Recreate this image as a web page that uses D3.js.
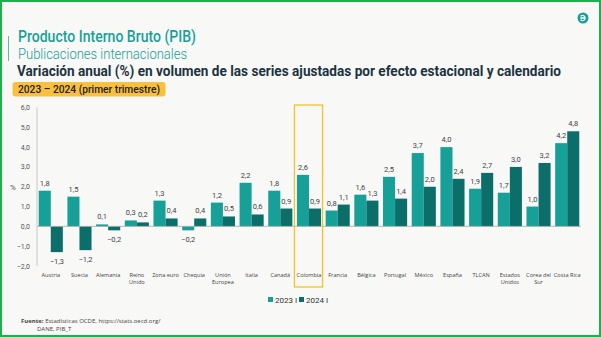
<!DOCTYPE html>
<html lang="es">
<head>
<meta charset="UTF-8">
<title>PIB - Publicaciones internacionales</title>
<script src="https://d3js.org/d3.v7.min.js"></script>
<style>
  html, body { margin: 0; padding: 0; background: #ffffff; }
  svg { display: block; font-family: "Roboto", "Noto Sans", sans-serif; }
  .narrow { font-family: "Liberation Sans Narrow", "Roboto", sans-serif; }
  .tick-label { font-size: 7px; fill: #555; text-anchor: end; }
  .value-label { font-size: 7.5px; fill: #444; text-anchor: middle; }
  .cat-label { font-size: 5.6px; fill: #444; text-anchor: middle; font-family: "Open Sans", "Noto Sans", sans-serif; }
</style>
</head>
<body>
<div id="chart"></div>
<script>
// Países y regiones (las etiquetas de dos líneas se separan con "\n")
const categories = ["Austria", "Suecia", "Alemania", "Reino\nUnido", "Zona euro", "Chequia",
  "Unión\nEuropea", "Italia", "Canadá", "Colombia", "Francia", "Bélgica", "Portugal",
  "México", "España", "TLCAN", "Estados\nUnidos", "Corea del\nSur", "Costa Rica"];
const series = ["2023 I", "2024 I"];
const values2023 = [1.8, 1.5, 0.1, 0.3, 1.3, -0.2, 1.2, 2.2, 1.8, 2.6, 0.8, 1.6, 2.5, 3.7, 4.0, 1.9, 1.7, 1.0, 4.2];
const values2024 = [-1.3, -1.2, -0.2, 0.2, 0.4, 0.4, 0.5, 0.6, 0.9, 0.9, 1.1, 1.3, 1.4, 2.0, 2.4, 2.7, 3.0, 3.2, 4.8];
const yTicks = [-2, -1, 0, 1, 2, 3, 4, 5, 6];
const highlighted = "Colombia";

const W = 601, H = 337;
const colors = ["#17a097", "#0b6e69"];
const fmt = v => d3.format(".1f")(v).replace(".", ",");

const svg = d3.select("#chart").append("svg")
  .attr("width", W).attr("height", H);

// fondo y marco verde
svg.append("rect").attr("x", 0).attr("y", 0).attr("width", W).attr("height", H).attr("fill", "#f8f8f7");
svg.append("rect").attr("x", 1).attr("y", 1).attr("width", W - 2).attr("height", H - 2)
  .attr("fill", "none").attr("stroke", "#1db04c").attr("stroke-width", 2);

// logo
svg.append("circle").attr("cx", 583).attr("cy", 18).attr("r", 5.5).attr("fill", "#17a097");
svg.append("path").attr("d", "M580.6,16.2 A2.6,2.6 0 1 1 580.6,19.8 M580.3,18 L585.4,18")
  .attr("fill", "none").attr("stroke", "#fff").attr("stroke-width", 1.3);

// encabezado
svg.append("line").attr("x1", 8.5).attr("x2", 8.5).attr("y1", 36).attr("y2", 61)
  .attr("stroke", "#5cb8a8").attr("stroke-width", 1);
svg.append("text").attr("x", 18).attr("y", 42)
  .attr("font-size", 17).attr("font-weight", 500).attr("fill", "#17a097")
  .attr("textLength", 178).attr("lengthAdjust", "spacingAndGlyphs")
  .text("Producto Interno Bruto (PIB)");
svg.append("text").attr("x", 18).attr("y", 58.5)
  .attr("font-size", 15).attr("font-weight", 300).attr("fill", "#17a097")
  .attr("textLength", 169).attr("lengthAdjust", "spacingAndGlyphs")
  .text("Publicaciones internacionales");
svg.append("text").attr("class", "narrow").attr("x", 17).attr("y", 76.5)
  .attr("font-size", 13.5).attr("font-weight", 700).attr("fill", "#1c3440")
  .attr("textLength", 544).attr("lengthAdjust", "spacingAndGlyphs")
  .attr("transform", "translate(0,76.5) scale(1,1.1) translate(0,-76.5)")
  .text("Variación anual (%) en volumen de las series ajustadas por efecto estacional y calendario");

svg.append("rect").attr("x", 12.5).attr("y", 82).attr("width", 153).attr("height", 14.5)
  .attr("rx", 3).attr("fill", "#f8c03c");
svg.append("text").attr("x", 18).attr("y", 93)
  .attr("font-size", 11).attr("font-weight", 500).attr("fill", "#222")
  .attr("textLength", 142).attr("lengthAdjust", "spacingAndGlyphs")
  .text("2023 – 2024 (primer trimestre)");

// escalas
const x = d3.scaleBand().domain(categories).range([37, 581])
  .paddingInner(0.16).paddingOuter(0.06);
const xSub = d3.scaleBand().domain(series).range([0, x.bandwidth()]);
const y = d3.scaleLinear().domain([-2, 6]).range([266, 107.5]);

// eje vertical y línea de cero
svg.append("line").attr("x1", 37).attr("x2", 37).attr("y1", y(6)).attr("y2", y(-2))
  .attr("stroke", "#bbb").attr("stroke-width", 0.8);
svg.selectAll(".tick-label").data(yTicks).enter().append("text")
  .attr("class", "tick-label").attr("x", 30).attr("y", d => y(d) + 2.5)
  .text(fmt);
svg.append("text").attr("x", 10).attr("y", 190).attr("font-size", 8).attr("fill", "#555").text("%");

// barras
const rows = categories.map((c, i) => ({ cat: c, vals: [values2023[i], values2024[i]] }));
const groups = svg.selectAll(".group").data(rows).enter().append("g")
  .attr("class", "group").attr("transform", d => `translate(${x(d.cat)},0)`);

groups.selectAll("rect").data(d => d.vals.map((v, j) => ({ s: series[j], v, j }))).enter()
  .append("rect")
  .attr("x", d => xSub(d.s)).attr("width", xSub.bandwidth())
  .attr("y", d => y(Math.max(0, d.v)))
  .attr("height", d => Math.abs(y(d.v) - y(0)))
  .attr("fill", d => colors[d.j]);

groups.selectAll(".value-label").data(d => d.vals.map((v, j) => ({ s: series[j], v, j }))).enter()
  .append("text").attr("class", "value-label")
  .attr("x", d => xSub(d.s) + xSub.bandwidth() / 2)
  .attr("y", d => d.v >= 0 ? y(d.v) - 5 : y(d.v) + 12)
  .text(d => fmt(d.v));

svg.append("line").attr("x1", 37).attr("x2", 581).attr("y1", y(0)).attr("y2", y(0))
  .attr("stroke", "#aaa").attr("stroke-width", 0.8);

// etiquetas de categoría
groups.append("text").attr("class", "cat-label")
  .attr("y", 276.5)
  .selectAll("tspan").data(d => d.cat.split("\n")).enter().append("tspan")
  .attr("x", x.bandwidth() / 2).attr("dy", (d, i) => i === 0 ? 0 : 7.5)
  .text(d => d);

// recuadro de Colombia
svg.append("rect")
  .attr("x", x(highlighted) - 2.5).attr("y", 105)
  .attr("width", x.bandwidth() + 4).attr("height", 182)
  .attr("fill", "none").attr("stroke", "#f5c22a").attr("stroke-width", 1.3);

// leyenda
const legend = svg.append("g").attr("transform", "translate(268,297)");
series.forEach((s, i) => {
  const g = legend.append("g").attr("transform", `translate(${i * 31},0)`);
  g.append("rect").attr("width", 5).attr("height", 5).attr("fill", colors[i]);
  g.append("text").attr("x", 7).attr("y", 5.5).attr("font-size", 8).attr("fill", "#333")
    .text(s);
});

// fuente
const src = svg.append("text").attr("x", 21).attr("y", 323).attr("font-size", 6)
  .attr("fill", "#444").attr("font-family", "'Open Sans', sans-serif");
src.append("tspan").attr("font-weight", 700).text("Fuente:");
src.append("tspan").text(" Estadísticas OCDE, https://stats.oecd.org/");
svg.append("text").attr("x", 37).attr("y", 330.5).attr("font-size", 6)
  .attr("fill", "#444").attr("font-family", "'Open Sans', sans-serif").text("DANE, PIB_T");
</script>
</body>
</html>
